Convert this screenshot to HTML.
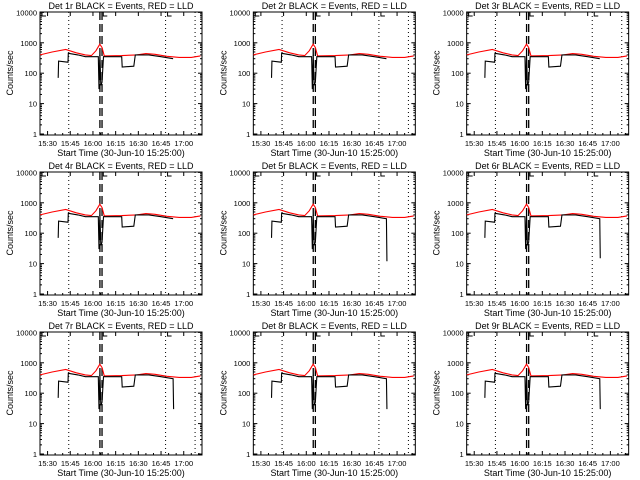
<!DOCTYPE html>
<html><head><meta charset="utf-8"><style>
body{margin:0;background:#fff}
svg{display:block;font-family:"Liberation Sans",sans-serif}
text{font-size:9px;fill:#000}
text.tk{font-size:7.5px}
</style></head><body>
<svg id="c" width="640" height="480" viewBox="0 0 640 480"></svg>
<script>
const detectors=["1r","2r","3r","4r","5r","6r","7r","8r","9r"];
const xTickLabels=["15:30","15:45","16:00","16:15","16:30","16:45","17:00"];
const xTickMinutes=[5,20,35,50,65,80,95];
const yTickValues=[1,10,100,1000,10000];
const yTickLabels=["1","10","100","1000","10000"];
const redTimes=[0,8,17,24,30,34,37,39.5,41,42.5,54,64,70,76,84,92,100,106];
const redValues=[400,500,600,470,400,380,550,900,700,370,380,400,440,420,360,330,330,370];
const blackTimes=[12,12.3,18.5,18.7,25,30,38.5,39,39.6,40.2,41,42,42.5,54,54.3,62,63,72,80,88];
const blackValues=[70,250,230,450,400,350,350,30,400,40,50,350,350,350,160,170,400,400,350,300];
const blackEndDrop=[null,null,null,null,12,15,30,30,30];
const markerTimes=[19,83,102.5];
const dashTimes=[39.6,41];
const svg=document.getElementById('c');
const NS="http://www.w3.org/2000/svg";
function mk(tag,attrs,parent){const e=document.createElementNS(NS,tag);for(const k in attrs)e.setAttribute(k,attrs[k]);parent.appendChild(e);return e;}
const L=40,R=202,T=12,B=135;
const xs=t=>L+t*1.513;
const ys=v=>134-30.4*Math.log10(v);
detectors.forEach((d,i)=>{
  const g=mk('g',{transform:`translate(${(i%3)*213.33},${Math.floor(i/3)*160})`},svg);
  
  
  const t=mk('text',{x:121,y:9,'text-anchor':'middle'},g);t.textContent=`Det ${d} BLACK = Events, RED = LLD`;
  
  const f=mk('rect',{x:L,y:T,width:R-L,height:B-T,fill:'none',stroke:'#000','stroke-width':1},g);
  
  yTickValues.forEach((v,k)=>{
    const y=ys(v);
    mk('line',{x1:L,x2:L+4,y1:y,y2:y,stroke:'#000'},g);mk('line',{x1:R-4,x2:R,y1:y,y2:y,stroke:'#000'},g);
    for(let m=2;m<10&&k<4;m++){const yy=ys(v*m);mk('line',{x1:L,x2:L+2,y1:yy,y2:yy,stroke:'#000'},g);mk('line',{x1:R-2,x2:R,y1:yy,y2:yy,stroke:'#000'},g);}
    const tx=mk('text',{x:L-3,y:y+3,'text-anchor':'end',class:'tk'},g);tx.textContent=yTickLabels[k];
    
  });
  xTickMinutes.forEach((m,k)=>{
    const x=xs(m);
    mk('line',{x1:x,x2:x,y1:B,y2:B-4,stroke:'#000'},g);mk('line',{x1:x,x2:x,y1:T,y2:T+4,stroke:'#000'},g);
    for(let s=1;s<3;s++){const xx=xs(m+s*5);if(xx<R){mk('line',{x1:xx,x2:xx,y1:B,y2:B-2,stroke:'#000'},g);}}
    const tx=mk('text',{x:x,y:146,'text-anchor':'middle',class:'tk'},g);tx.textContent=xTickLabels[k];
    
  });
  const xl=mk('text',{x:121,y:156,'text-anchor':'middle'},g);xl.textContent='Start Time (30-Jun-10 15:25:00)';
  
  const yl=mk('text',{x:13,y:73,'text-anchor':'middle',transform:'rotate(-90 13 73)'},g);yl.textContent='Counts/sec';
  
  markerTimes.forEach(m=>{const l=mk('line',{x1:xs(m),x2:xs(m),y1:T,y2:B,stroke:'#000','stroke-dasharray':'1,3'},g);
    });
  dashTimes.forEach(m=>{const l=mk('line',{x1:xs(m),x2:xs(m),y1:T,y2:B,stroke:'#000','stroke-width':1.3,'stroke-dasharray':'8,4'},g);
    });
  [[0,'L'],[40.5,'S'],[83,'E']].forEach(([m,c])=>{const x=xs(m)+2;mk('path',{d:`M${x+4} ${T+4}H${x}V${T}`,fill:'none',stroke:'#000'},g);});
  let pr='';redTimes.forEach((tt,k)=>{pr+=(k?'L':'M')+xs(tt).toFixed(1)+' '+ys(redValues[k]).toFixed(1);});
  const rp=mk('path',{d:pr,fill:'none',stroke:'#f00','stroke-width':1.1},g);
  
  let pb='';blackTimes.forEach((tt,k)=>{pb+=(k?'L':'M')+xs(tt).toFixed(1)+' '+ys(blackValues[k]).toFixed(1);});
  if(blackEndDrop[i]!==null){pb+='L'+xs(88.3).toFixed(1)+' '+ys(blackEndDrop[i]).toFixed(1);}
  const bp=mk('path',{d:pb,fill:'none',stroke:'#000','stroke-width':1.1},g);
  
});
</script>
</body></html>
